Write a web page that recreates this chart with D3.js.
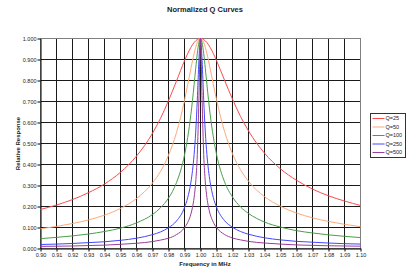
<!DOCTYPE html>
<html>
<head>
<meta charset="utf-8">
<script src="https://cdn.jsdelivr.net/npm/d3@7"></script>
<style>
  body { margin: 0; background: #fff; }
  svg { display: block; font-family: "Liberation Sans", Arial, sans-serif; }
</style>
</head>
<body>
<div id="chart"></div>
<script>
'use strict';

// Frequency points (MHz), denser near resonance
const freq = [0.90, 0.91, 0.92, 0.93, 0.94, 0.95, 0.96, 0.97, 0.975, 0.98, 0.985, 0.99, 0.992, 0.994, 0.995,
  0.996, 0.997, 0.998, 0.999, 1.000, 1.001, 1.002, 1.003, 1.004, 1.005, 1.006, 1.008, 1.01, 1.015, 1.02,
  1.025, 1.03, 1.04, 1.05, 1.06, 1.07, 1.08, 1.09, 1.10];

const q25 = [0.186, 0.207, 0.233, 0.266, 0.307, 0.363, 0.440, 0.549, 0.620, 0.704, 0.798, 0.894, 0.928, 0.958, 0.970,
  0.981, 0.989, 0.995, 0.999, 1.000, 0.999, 0.995, 0.989, 0.981, 0.970, 0.958, 0.929, 0.895, 0.802, 0.711,
  0.629, 0.560, 0.454, 0.379, 0.325, 0.283, 0.251, 0.226, 0.205];
const q50 = [0.094, 0.105, 0.119, 0.136, 0.159, 0.191, 0.238, 0.312, 0.367, 0.444, 0.552, 0.705, 0.780, 0.857, 0.894,
  0.928, 0.958, 0.981, 0.995, 1.000, 0.995, 0.981, 0.958, 0.929, 0.895, 0.858, 0.782, 0.709, 0.558, 0.451,
  0.375, 0.320, 0.247, 0.201, 0.169, 0.146, 0.129, 0.115, 0.104];
const q100 = [0.047, 0.053, 0.060, 0.069, 0.081, 0.097, 0.122, 0.162, 0.194, 0.240, 0.314, 0.445, 0.529, 0.639, 0.706,
  0.780, 0.857, 0.928, 0.981, 1.000, 0.981, 0.929, 0.858, 0.782, 0.708, 0.641, 0.532, 0.449, 0.318, 0.245,
  0.198, 0.167, 0.126, 0.102, 0.085, 0.074, 0.065, 0.058, 0.052];
const q250 = [0.019, 0.021, 0.024, 0.028, 0.032, 0.039, 0.049, 0.066, 0.079, 0.099, 0.131, 0.195, 0.242, 0.315, 0.371,
  0.447, 0.554, 0.707, 0.894, 1.000, 0.895, 0.708, 0.555, 0.448, 0.372, 0.317, 0.243, 0.197, 0.133, 0.101,
  0.081, 0.068, 0.051, 0.041, 0.034, 0.030, 0.026, 0.023, 0.021];
const q500 = [0.010, 0.011, 0.012, 0.014, 0.016, 0.020, 0.025, 0.033, 0.040, 0.049, 0.066, 0.099, 0.124, 0.164, 0.196,
  0.242, 0.316, 0.447, 0.707, 1.000, 0.708, 0.448, 0.317, 0.243, 0.197, 0.165, 0.125, 0.100, 0.067, 0.050,
  0.041, 0.034, 0.026, 0.021, 0.017, 0.015, 0.013, 0.012, 0.011];

const seriesNames = ['Q=25', 'Q=50', 'Q=100', 'Q=250', 'Q=500'];
const seriesValues = [q25, q50, q100, q250, q500];
const seriesColors = ['#ff4a4a', '#ffa878', '#4a9e4a', '#4646ff', '#9c3c9c'];

const xTicks = d3.range(0, 21).map(i => +(0.90 + i * 0.01).toFixed(2));
const yTicks = d3.range(0, 11).map(i => +(i * 0.1).toFixed(1));

const width = 408, height = 270;
const plot = { left: 40.5, right: 360.5, top: 38.5, bottom: 248.5 };

const svg = d3.select('#chart').append('svg')
  .attr('width', width)
  .attr('height', height);

const x = d3.scaleLinear().domain([0.90, 1.10]).range([plot.left, plot.right]);
const y = d3.scaleLinear().domain([0, 1]).range([plot.bottom, plot.top]);

// Title
svg.append('text')
  .attr('x', 205).attr('y', 12)
  .attr('text-anchor', 'middle')
  .attr('font-size', 7.5).attr('font-weight', 'bold')
  .attr('fill', '#222')
  .text('Normalized Q Curves');

// Grid lines
svg.append('g').selectAll('line.vg')
  .data(xTicks)
  .join('line')
  .attr('x1', d => x(d)).attr('x2', d => x(d))
  .attr('y1', plot.top).attr('y2', plot.bottom)
  .attr('stroke', '#1a1a1a').attr('stroke-width', 1);

svg.append('g').selectAll('line.hg')
  .data(yTicks)
  .join('line')
  .attr('x1', plot.left).attr('x2', plot.right)
  .attr('y1', d => y(d)).attr('y2', d => y(d))
  .attr('stroke', '#1a1a1a').attr('stroke-width', 1);

// Plot border
svg.append('rect')
  .attr('x', plot.left).attr('y', plot.top)
  .attr('width', plot.right - plot.left).attr('height', plot.bottom - plot.top)
  .attr('fill', 'none').attr('stroke', '#808080');

// Axes
const xAxis = svg.append('g')
  .attr('transform', `translate(0,${plot.bottom})`)
  .call(d3.axisBottom(x).tickValues(xTicks).tickFormat(d3.format('.2f')).tickSize(3).tickSizeOuter(0));
const yAxis = svg.append('g')
  .attr('transform', `translate(${plot.left},0)`)
  .call(d3.axisLeft(y).tickValues(yTicks).tickFormat(d3.format('.3f')).tickSize(3).tickSizeOuter(0));

[xAxis, yAxis].forEach(a => {
  a.select('.domain').attr('stroke', '#000');
  a.selectAll('.tick line').attr('stroke', '#000');
  a.selectAll('.tick text')
    .attr('font-size', 5.5)
    .attr('font-family', '"Liberation Sans", Arial, sans-serif')
    .attr('fill', '#222');
});
xAxis.selectAll('.tick text').attr('dy', '0.9em').attr('y', 4);
yAxis.selectAll('.tick text').attr('x', -4);

// Axis titles
svg.append('text')
  .attr('x', 205).attr('y', 266)
  .attr('text-anchor', 'middle')
  .attr('font-size', 6).attr('font-weight', 'bold')
  .attr('fill', '#222')
  .text('Frequency in MHz');

svg.append('text')
  .attr('transform', `translate(20,${(plot.top + plot.bottom) / 2}) rotate(-90)`)
  .attr('text-anchor', 'middle')
  .attr('font-size', 6).attr('font-weight', 'bold')
  .attr('fill', '#222')
  .text('Relative Response');

// Curves
const line = d3.line()
  .x(d => x(d[0]))
  .y(d => y(d[1]))
  .curve(d3.curveMonotoneX);

svg.append('g').selectAll('path.curve')
  .data(seriesValues)
  .join('path')
  .classed('curve', true)
  .attr('d', vals => line(freq.map((f, i) => [f, vals[i]])))
  .attr('fill', 'none')
  .attr('stroke', (d, i) => seriesColors[i])
  .attr('stroke-width', 1);

// Legend
const legend = svg.append('g').attr('transform', 'translate(370.5,113.5)');
legend.append('rect')
  .attr('width', 35).attr('height', 44)
  .attr('fill', '#fff').attr('stroke', '#333');

const items = legend.selectAll('g.item')
  .data(seriesNames)
  .join('g')
  .attr('transform', (d, i) => `translate(0,${5 + i * 8.5})`);
items.append('line')
  .attr('x1', 2).attr('x2', 14)
  .attr('stroke', (d, i) => seriesColors[i]).attr('stroke-width', 1);
items.append('text')
  .attr('x', 15).attr('dy', '0.35em')
  .attr('font-size', 5.5).attr('fill', '#222')
  .text(d => d);
</script>
</body>
</html>
